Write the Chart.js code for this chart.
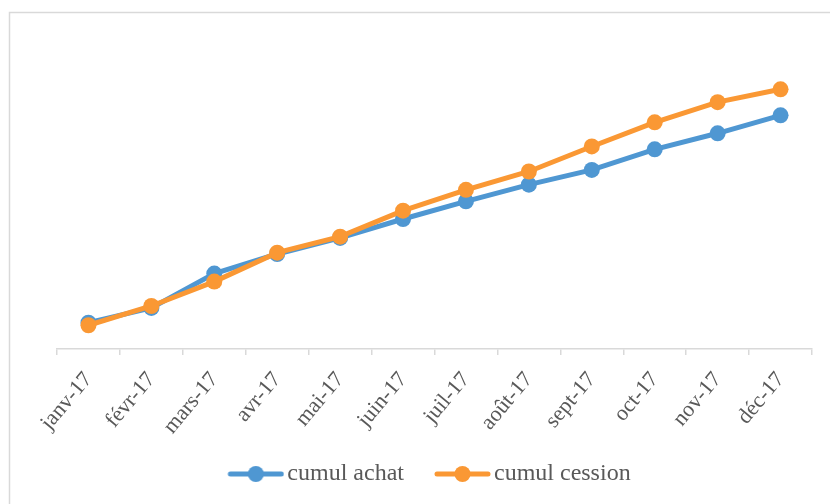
<!DOCTYPE html>
<html>
<head>
<meta charset="utf-8">
<script src="https://cdn.jsdelivr.net/npm/chart.js@4.4.1/dist/chart.umd.min.js"></script>
<style>
  html, body { margin: 0; padding: 0; background: #ffffff; }
  #wrap { position: relative; width: 830px; height: 504px; }
</style>
</head>
<body>
<div id="wrap"><canvas id="chart" width="830" height="504"></canvas></div>
<script>
// Monthly categories
const months = ['janv-17', 'févr-17', 'mars-17', 'avr-17', 'mai-17', 'juin-17',
                'juil-17', 'août-17', 'sept-17', 'oct-17', 'nov-17', 'déc-17'];

// Cumulative totals per month
const cumulAchat   = [8.2, 12.8, 23.5, 29.6, 34.6, 40.5, 46.0, 51.2, 55.8, 62.2, 67.2, 72.8];
const cumulCession = [7.4, 13.4, 21.0, 30.0, 35.0, 43.1, 49.6, 55.3, 63.1, 70.6, 76.9, 80.9];

const seriesNames = ['cumul achat', 'cumul cession'];
const BLUE = '#4F97D2';
const ORANGE = '#FA9834';
const TEXT = '#595959';
const GRID = '#d9d9d9';
const SERIF = '"Liberation Serif", "Times New Roman", serif';

// Legend swatch: a short line with a round marker, sitting at the right
// end of a transparent strip so it ends just before the label text
function legendSwatch(color) {
  const c = document.createElement('canvas');
  c.width = 94; c.height = 18;
  const g = c.getContext('2d');
  g.strokeStyle = color;
  g.lineWidth = 5;
  g.lineCap = 'round';
  g.beginPath(); g.moveTo(40, 9); g.lineTo(91, 9); g.stroke();
  g.fillStyle = color;
  g.beginPath(); g.arc(65.5, 9, 8, 0, Math.PI * 2); g.fill();
  return c;
}

// Thin frame around the chart area (top and left edges)
const framePlugin = {
  id: 'frame',
  beforeDraw(chart) {
    const ctx = chart.ctx;
    ctx.save();
    ctx.strokeStyle = GRID;
    ctx.lineWidth = 1.5;
    ctx.beginPath();
    ctx.moveTo(9.5, 504);
    ctx.lineTo(9.5, 12.5);
    ctx.lineTo(830, 12.5);
    ctx.stroke();
    ctx.restore();
  }
};

const swatches = [legendSwatch(BLUE), legendSwatch(ORANGE)];

// invisible side axes that only reserve margin around the plot
const spacer = (position, width) => ({
  type: 'linear',
  position,
  display: true,
  grid: { display: false, drawTicks: false },
  border: { display: false },
  ticks: { display: false },
  afterFit(scale) { scale.width = width; }
});

new Chart(document.getElementById('chart'), {
  type: 'line',
  data: {
    labels: months,
    datasets: [
      {
        label: seriesNames[0],
        data: cumulAchat,
        borderColor: BLUE,
        backgroundColor: BLUE,
        borderWidth: 5,
        pointRadius: 8,
        pointHoverRadius: 8,
        pointBackgroundColor: BLUE,
        pointBorderColor: BLUE,
        pointBorderWidth: 0,
        tension: 0,
        order: 1
      },
      {
        label: seriesNames[1],
        data: cumulCession,
        borderColor: ORANGE,
        backgroundColor: ORANGE,
        borderWidth: 5,
        pointRadius: 8,
        pointHoverRadius: 8,
        pointBackgroundColor: ORANGE,
        pointBorderColor: ORANGE,
        pointBorderWidth: 0,
        tension: 0,
        order: 0
      }
    ]
  },
  options: {
    responsive: false,
    animation: false,
    layout: { padding: { left: 0, right: 0, top: 28, bottom: 8 } },
    scales: {
      x: {
        offset: true,
        afterFit(scale) { scale.height = 111; },
        grid: {
          offset: true,
          drawOnChartArea: false,
          drawTicks: true,
          tickLength: 6,
          color: GRID,
          lineWidth: 1.5
        },
        border: { display: true, color: GRID, width: 1.5 },
        ticks: {
          color: TEXT,
          font: { family: SERIF, size: 22 },
          minRotation: 50,
          maxRotation: 50,
          padding: 12,
          autoSkip: false
        }
      },
      y: Object.assign(spacer('left', 57), { min: 0, max: 100 }),
      yRight: spacer('right', 18)
    },
    plugins: {
      tooltip: { enabled: false },
      legend: {
        position: 'bottom',
        labels: {
          usePointStyle: true,
          pointStyleWidth: 76,
          boxHeight: 18,
          padding: 2,
          color: TEXT,
          font: { family: SERIF, size: 24 },
          generateLabels(chart) {
            return chart.data.datasets.map((ds, i) => ({
              text: ds.label,
              fillStyle: ds.borderColor,
              strokeStyle: ds.borderColor,
              lineWidth: 0,
              pointStyle: swatches[i],
              hidden: false,
              datasetIndex: i,
              fontColor: TEXT
            }));
          }
        }
      }
    }
  },
  plugins: [framePlugin]
});
</script>
</body>
</html>
